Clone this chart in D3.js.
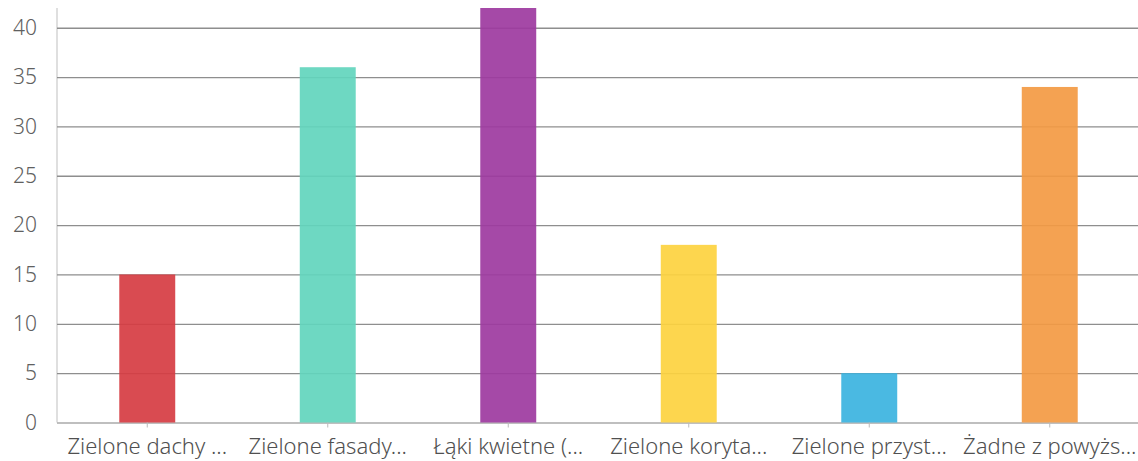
<!DOCTYPE html>
<html>
<head>
<meta charset="utf-8">
<script src="https://cdn.jsdelivr.net/npm/d3@7"></script>
<style>
    body { margin: 0; background: #fff; }
    svg { display: block; }
</style>
</head>
<body>
<div id="chart-container"></div>
<script>
const categories = ["Zielone dachy ...", "Zielone fasady...", "Łąki kwietne (...", "Zielone koryta...", "Zielone przyst...", "Żadne z powyżs..."];
const values = [15, 36, 42, 18, 5, 34];
const colors = ["#d63c42", "#62d5bd", "#9d3a9f", "#fdd23f", "#3bb3e0", "#f39a43"];
const yTicks = [0, 5, 10, 15, 20, 25, 30, 35, 40];

const svgW = 1138;
const svgH = 461;
const plotLeft = 57; // plot area
const plotRight = 1140;
const plotTop = 8;
const plotBottom = 422.5;
const font = "'Noto Sans', 'Open Sans', sans-serif";

const xScale = d3.scaleBand()
.domain(categories)
.range([plotLeft, plotRight])
.paddingInner(0.69)
.paddingOuter(0.345);

const yScale = d3.scaleLinear()
.domain([0, 42])
.range([plotBottom, plotTop]);

const svg = d3.select("#chart-container")
.append("svg")
.attr("width", svgW)
.attr("height", svgH);

// y axis line
svg.append("line")
.attr("x1", plotLeft).attr("x2", plotLeft)
.attr("y1", plotTop).attr("y2", plotBottom)
.attr("stroke", "#d4d4d4")
.attr("stroke-width", 1.5);

// gridlines + tick labels
const yAxis = svg.append("g")
.attr("transform", `translate(${plotLeft}, 0)`)
.call(d3.axisLeft(yScale).tickValues(yTicks).tickSize(-(svgW - plotLeft)).tickPadding(20));

yAxis.select(".domain").remove();
yAxis.selectAll(".tick line")
.attr("stroke", d => d === 0 ? "#aaaaaa" : "#8e8e8e")
.attr("stroke-width", 1.3);
yAxis.selectAll(".tick text")
.attr("fill", "#606060")
.style("font-family", font)
.style("font-weight", 300)
.style("font-size", "21px");

svg.selectAll("rect.bar")
.data(values)
.enter()
.append("rect")
.attr("class", "bar")
.attr("x", (d, i) => xScale(categories[i]))
.attr("y", d => yScale(d))
.attr("width", xScale.bandwidth())
.attr("height", d => plotBottom - yScale(d))
.attr("fill", (d, i) => colors[i])
.attr("fill-opacity", 0.92);

// x axis
const xAxis = svg.append("g")
.attr("transform", `translate(0, ${plotBottom})`)
.call(d3.axisBottom(xScale).tickSize(5).tickPadding(11));

xAxis.select(".domain").remove();
xAxis.selectAll(".tick line").attr("stroke", "#bbb");
xAxis.selectAll(".tick text")
.attr("fill", "#505050")
.style("font-family", font)
.style("font-weight", 300)
.style("font-size", "22px");
</script>
</body>
</html>
